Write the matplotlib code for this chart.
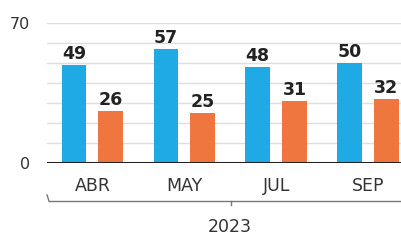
import numpy as np
from matplotlib import pyplot as plt
from matplotlib.lines import Line2D

months = ["ABR", "MAY", "JUL", "SEP"]
blue_vals = [49, 57, 48, 50]
orange_vals = [26, 25, 31, 32]
year_label = "2023"

blue = "#1fa9e5"
orange = "#f0763f"

fig = plt.figure(figsize=(4.01, 2.4), dpi=100)
ax = fig.add_axes([47 / 401, 77 / 240, 354 / 401, 140 / 240])

x = np.arange(len(months))
w = 0.27
b1 = ax.bar(x - 0.2, blue_vals, w, color=blue, zorder=3)
b2 = ax.bar(x + 0.2, orange_vals, w, color=orange, zorder=3)

for bars in (b1, b2):
    for r in bars:
        ax.text(r.get_x() + r.get_width() / 2, r.get_height() + 1.0,
                str(int(r.get_height())), ha="center", va="bottom",
                fontsize=12.5, fontweight="bold", color="#222222")

ax.set_xlim(-0.495, 3.36)
ax.set_ylim(0, 70)
ax.set_yticks([0, 70])
ax.set_yticklabels(["0", "70"], fontsize=11.5, color="#333333")
for y in range(10, 71, 10):
    ax.axhline(y, color="#dedede", lw=1, zorder=1)
ax.axhline(0, color="#222222", lw=2.2, zorder=4)

ax.set_xticks(x)
ax.set_xticklabels(months, fontsize=12.5, color="#333333")
ax.tick_params(axis="x", length=0, pad=10)
ax.tick_params(axis="y", length=0, pad=12)
for s in ax.spines.values():
    s.set_visible(False)

# year bracket under the month labels
ty = 1 - 201 / 240
fig.add_artist(Line2D([49 / 401, 1.0], [ty, ty], color="#777777", lw=1))
fig.add_artist(Line2D([47 / 401, 49 / 401], [ty + 6 / 240, ty], color="#777777", lw=1))
fig.add_artist(Line2D([231 / 401, 231 / 401], [ty, ty - 4 / 240], color="#777777", lw=1))
ax.text(1.5, -0.46, year_label, transform=ax.get_xaxis_transform(),
        ha="center", va="center", fontsize=12.5, color="#333333")

plt.savefig("out.png", dpi=100)
